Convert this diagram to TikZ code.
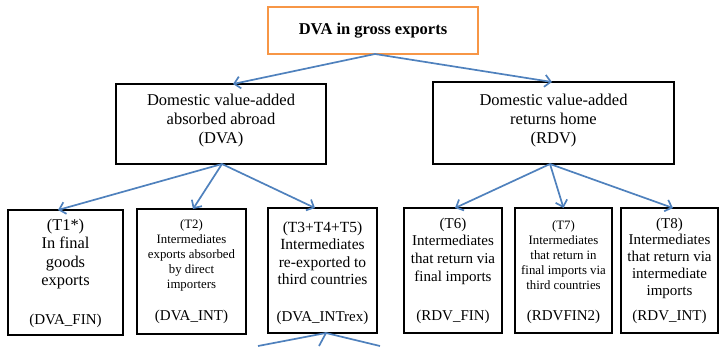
\documentclass[tikz,border=0pt]{standalone}
\usepackage{fontspec}
\setmainfont{Liberation Serif}
\usetikzlibrary{arrows.meta,calc}
\definecolor{arrowblue}{RGB}{79,129,189}
\definecolor{boxorange}{RGB}{247,150,70}
\begin{document}
\begin{tikzpicture}[x=1pt,y=-1pt,
  box/.style={draw=black,line width=1.8pt,inner sep=0pt,outer sep=0pt},
  topbox/.style={draw=boxorange,line width=1.6pt,inner sep=0pt,outer sep=0pt},
  conn/.style={draw=arrowblue,line width=1.7pt,-{Straight Barb[length=6pt,width=12pt]}},
  plainconn/.style={draw=arrowblue,line width=1.7pt},
  txt/.style={align=center,inner sep=0pt},
  bigfont/.style={font=\fontsize{16.5}{19}\selectfont},
  smallfont/.style={font=\fontsize{12.8}{15}\selectfont},
  labfont/.style={font=\fontsize{15}{18}\selectfont}]
\useasboundingbox (0,0) rectangle (720,346);

% boxes
\node[topbox,minimum width=210pt,minimum height=47pt] (top) at (373,30.5) {};
\node[box,minimum width=210pt,minimum height=80pt] (dva) at (221,124) {};
\node[box,minimum width=241pt,minimum height=82pt] (rdv) at (553.5,123) {};
\node[box,minimum width=115pt,minimum height=125pt] (t1) at (65.5,272.5) {};
\node[box,minimum width=109pt,minimum height=125pt] (t2) at (191.5,271.5) {};
\node[box,minimum width=109pt,minimum height=125pt] (t3) at (322.5,270.5) {};
\node[box,minimum width=98pt,minimum height=125pt] (t6) at (453,270.5) {};
\node[box,minimum width=97pt,minimum height=125pt] (t7) at (563.5,270.5) {};
\node[box,minimum width=97pt,minimum height=125pt] (t8) at (669.5,270.5) {};

% texts
\node[txt,font=\fontsize{16.5}{19}\selectfont\bfseries] (toptxt) at (373,31) {DVA in gross exports};
\node[txt,bigfont] (dvatxt) at (221,121) {Domestic value-added\\absorbed abroad\\(DVA)};
\node[txt,bigfont] (rdvtxt) at (553.5,121) {Domestic value-added\\returns home\\(RDV)};

\node[txt,font=\fontsize{16.4}{18.3}\selectfont] (t1txt) at (65.5,254) {(T1*)\\In final\\goods\\exports};
\node[txt,smallfont] (t2txt) at (191.5,255) {(T2)\\Intermediates\\exports absorbed\\by direct\\importers};
\node[txt,font=\fontsize{15.5}{17.5}\selectfont] (t3txt) at (322.5,253) {(T3+T4+T5)\\Intermediates\\re-exported to\\third countries};
\node[txt,font=\fontsize{15}{17.7}\selectfont] (t6txt) at (453,251) {(T6)\\Intermediates\\that return via\\final imports};
\node[txt,smallfont] (t7txt) at (563.5,255) {(T7)\\Intermediates\\that return in\\final imports via\\third countries};
\node[txt,font=\fontsize{15}{16.7}\selectfont] (t8txt) at (669.5,258) {(T8)\\Intermediates\\that return via\\intermediate\\imports};

\node[txt,labfont] (t1lab) at (65.5,321) {(DVA\_FIN)};
\node[txt,labfont] (t2lab) at (191.5,317) {(DVA\_INT)};
\node[txt,labfont] (t3lab) at (322.5,318) {(DVA\_INTrex)};
\node[txt,labfont] (t6lab) at (453,317) {(RDV\_FIN)};
\node[txt,labfont] (t7lab) at (563.5,317) {(RDVFIN2)};
\node[txt,labfont] (t8lab) at (669.5,317) {(RDV\_INT)};

% connectors
\draw[conn] ([xshift=2pt]top.south) -- ([xshift=12pt]dva.north);
\draw[conn] ([xshift=2pt]top.south) -- ([xshift=-1.5pt]rdv.north);
\draw[conn] ([xshift=1pt]dva.south) -- ([xshift=-7.5pt]t1.north);
\draw[conn] ([xshift=1pt]dva.south) -- ([xshift=1.5pt]t2.north);
\draw[conn] ([xshift=1pt]dva.south) -- ([xshift=-7.5pt]t3.north);
\draw[conn] ([xshift=-3.5pt]rdv.south) -- ([xshift=2pt]t6.north);
\draw[conn] ([xshift=-3.5pt]rdv.south) -- (t7.north);
\draw[conn] ([xshift=-3.5pt]rdv.south) -- ([xshift=3.5pt]t8.north);

\coordinate (b1) at (258,346);
\coordinate (b2) at (319,346);
\coordinate (b3) at (380,346);
\draw[plainconn] ([xshift=3.5pt]t3.south) -- (b1);
\draw[plainconn] ([xshift=3.5pt]t3.south) -- (b2);
\draw[plainconn] ([xshift=3.5pt]t3.south) -- (b3);
\end{tikzpicture}
\end{document}
